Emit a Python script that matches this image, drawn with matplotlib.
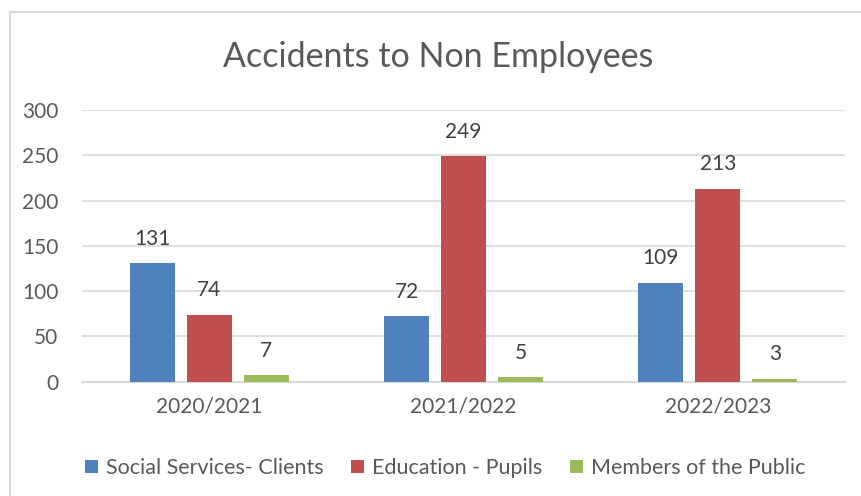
import matplotlib.pyplot as plt
import numpy as np
from matplotlib.patches import Rectangle

years = ['2020/2021', '2021/2022', '2022/2023']
social = [131, 72, 109]
education = [74, 249, 213]
public = [7, 5, 3]
series_names = ['Social Services- Clients', 'Education - Pupils', 'Members of the Public']
colors = ['#4F81BD', '#C0504D', '#9BBB59']

plt.rcParams['font.family'] = ['Lato', 'DejaVu Sans']
text_col = '#595959'

fig = plt.figure(figsize=(8.61, 4.96), dpi=100)
ax = fig.add_axes([0.0952, 0.2308, 0.8862, 0.5474])

x = np.arange(len(years))
width = 0.177
offset = 0.224
for i, (vals, name, c) in enumerate(zip([social, education, public], series_names, colors)):
    bars = ax.bar(x + (i - 1) * offset, vals, width, color=c, label=name, zorder=3)
    for b, v in zip(bars, vals):
        ax.text(b.get_x() + b.get_width() / 2, v + 27, str(v), ha='center', va='center',
                fontsize=15, color='#404040')

ax.set_xlim(-0.5, 2.5)
ax.set_ylim(0, 300)
ax.set_yticks(range(0, 301, 50))
ax.set_xticks(x)
ax.set_xticklabels(years)
ax.tick_params(axis='both', length=0, labelsize=15, colors=text_col)
ax.tick_params(axis='x', pad=11)
ax.tick_params(axis='y', pad=17)
ax.grid(axis='y', color='#d9d9d9', linewidth=1.2, zorder=0)
for s in ['top', 'right', 'left']:
    ax.spines[s].set_visible(False)
ax.spines['bottom'].set_color('#d9d9d9')
ax.spines['bottom'].set_linewidth(1.5)

fig.text(0.509, 0.885, 'Accidents to Non Employees', ha='center', va='center',
         fontsize=24.5, color=text_col)

handles, labels = ax.get_legend_handles_labels()
fig.legend(handles, labels, loc='center', bbox_to_anchor=(0.517, 0.056), ncol=3,
           frameon=False, fontsize=15.5, handlelength=0.6, handleheight=0.6,
           handletextpad=0.35, columnspacing=1.3, labelcolor=text_col)

fig.patches.append(Rectangle((10 / 861, -0.01), 1.0, (496 - 12) / 496 + 0.01,
                             transform=fig.transFigure, fill=False,
                             edgecolor='#d9d9d9', linewidth=1.5))

plt.savefig('out.png', dpi=100)
